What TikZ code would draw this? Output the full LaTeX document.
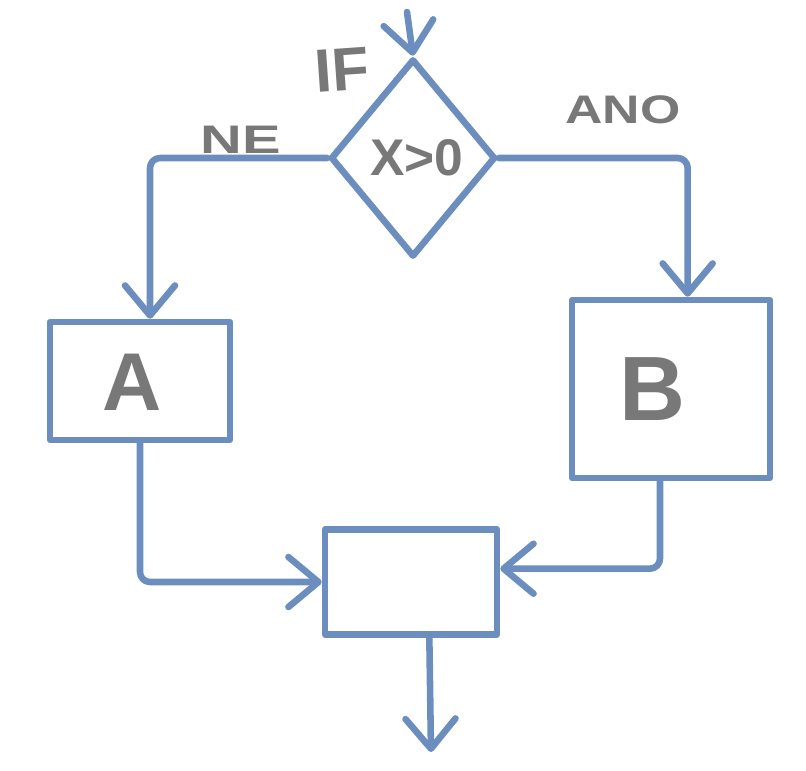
\documentclass[tikz,border=0pt]{standalone}
\usepackage{fontspec}
\setmainfont{Liberation Sans}
\usetikzlibrary{arrows.meta,shapes.geometric}
\definecolor{sketchblue}{HTML}{6C8EBF}
\definecolor{sketchgray}{HTML}{787878}
\tikzset{
  px/.style={x={(0.03cm,0)},y={(0,-0.03cm)}},
  line/.style={draw=sketchblue,line width=5.6pt,line cap=round,line join=round},
  flow/.style={line,rounded corners=0.3cm,-{Straight Barb[length=9mm,width=15mm,round]}},
  boxnode/.style={line,rectangle,inner sep=0pt},
  lbl/.style={text=sketchgray,inner sep=0pt}
}
\begin{document}
\begin{tikzpicture}[px]
\useasboundingbox (0,0) rectangle (806,770);
% shapes
\node[line,diamond,inner sep=0pt,minimum width=4.95cm,minimum height=5.94cm] (dia) at (413,158) {};
\node[boxnode,minimum width=5.4cm,minimum height=3.54cm] (A) at (140,381) {};
\node[boxnode,minimum width=5.94cm,minimum height=5.34cm] (B) at (671,389) {};
\node[boxnode,minimum width=5.16cm,minimum height=3.15cm] (C) at (411,582) {};
% labels
\node[lbl,font=\fontsize{44}{44}\selectfont\bfseries] (cond) at (417,158) {X>0};
\node[lbl,font=\fontsize{52}{52}\selectfont\bfseries,rotate=4] (if) at (342,70) {IF};
\node[lbl,font=\fontsize{34}{34}\selectfont\bfseries,xscale=1.45] (ne) at (241,140) {NE};
\node[lbl,font=\fontsize{34}{34}\selectfont\bfseries,xscale=1.3] (ano) at (623,110) {ANO};
\node[lbl,font=\fontsize{70}{70}\selectfont\bfseries] (la) at (132,382) {A};
\node[lbl,font=\fontsize{78}{78}\selectfont\bfseries] (lb) at (652,389) {B};
% free ends
\coordinate (start) at (407,12);
\coordinate (finish) at (431,752);
% connectors
\draw[flow] (start) -- (dia.north);
\draw[flow] (dia.west) -| ([xshift=0.3cm]A.north);
\draw[flow] (dia.east) -| ([xshift=0.5cm]B.north);
\draw[flow] (A.south) |- (C.west);
\draw[flow] ([xshift=-0.33cm]B.south) |- ([yshift=0.4cm]C.east);
\draw[flow] ([xshift=0.55cm]C.south) -- (finish);
\end{tikzpicture}
\end{document}
